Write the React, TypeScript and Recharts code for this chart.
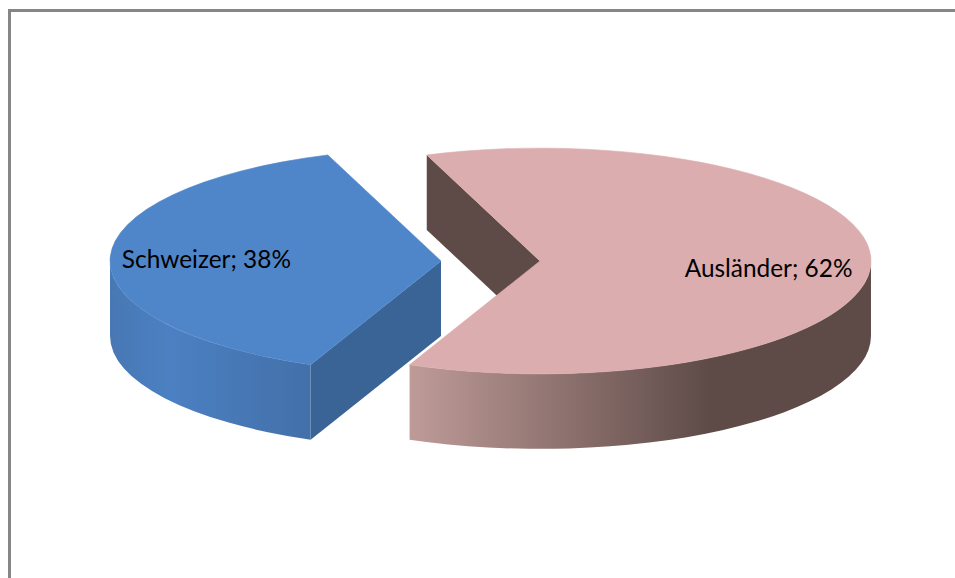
import { PieChart, Pie } from 'recharts';

const categories = ['Ausländer', 'Schweizer'];
const shares = [62, 38];

const chartData = categories.map((name, i) => ({ name, value: shares[i] }));

const RAD = Math.PI / 180;
const TILT = 0.341; // vertical squash of the ellipse
const DEPTH = 75; // height of the 3D wall
const EXPLODE = 49.5;

const looks: Record<string, any> = {
    'Ausländer': {
        top: '#dbadae',
        wall: '#5e4b48',
        x1: 409,
        x2: 871,
        stops: [[0, '#bf9b98'], [0.65, '#5e4b48'], [1, '#5e4b48']],
        nudge: 4,
    },
    'Schweizer': {
        top: '#4f86ca',
        wall: '#3a6496',
        x1: 110,
        x2: 310,
        stops: [[0, '#4878b4'], [0.3, '#4b80c2'], [1, '#4370a9']],
        nudge: 0,
    },
};

const centerX = (cx: number, midAngle: number) => cx + Math.cos(midAngle * RAD) * EXPLODE;

// one slice of the tilted pie, worked out from the angles Recharts hands over
const Slice3D = (props: any) => {
    const { cx, cy, outerRadius, startAngle, endAngle, midAngle, name } = props;
    const look = looks[name];
    const rx = outerRadius;
    const ry = outerRadius * TILT;
    const ox = centerX(cx, midAngle);

    const pt = (a: number, drop = 0) =>
        `${ox + rx * Math.cos(a * RAD)} ${cy - ry * Math.sin(a * RAD) + drop}`;

    const large = Math.abs(startAngle - endAngle) > 180 ? 1 : 0;
    const topPath = `M ${ox} ${cy} L ${pt(startAngle)} A ${rx} ${ry} 0 ${large} 1 ${pt(endAngle)} Z`;

    // only the part of the rim on the lower half of the ellipse shows
    const hi = Math.min(startAngle, 0);
    const lo = Math.max(endAngle, -180);
    const rimPath = `M ${pt(hi)} A ${rx} ${ry} 0 0 1 ${pt(lo)} L ${pt(lo, DEPTH)} A ${rx} ${ry} 0 0 0 ${pt(hi, DEPTH)} Z`;

    const wall = (a: number) =>
        `M ${ox} ${cy} L ${pt(a)} L ${pt(a, DEPTH)} L ${ox} ${cy + DEPTH} Z`;

    const gradId = `rim-${look.x1}`;

    return (
        <g>
            <defs>
                <linearGradient id={gradId} gradientUnits="userSpaceOnUse" x1={look.x1} x2={look.x2} y1={0} y2={0}>
                    {look.stops.map((s: any[]) => (
                        <stop key={s[0]} offset={s[0]} stopColor={s[1]} />
                    ))}
                </linearGradient>
            </defs>
            {Math.cos(startAngle * RAD) < 0 && <path d={wall(startAngle)} fill={look.wall} />}
            {Math.cos(endAngle * RAD) > 0 && <path d={wall(endAngle)} fill={look.wall} />}
            <path d={rimPath} fill={`url(#${gradId})`} />
            <path d={topPath} fill={look.top} stroke={look.top} strokeWidth={0.6} />
        </g>
    );
};

const renderLabel = (props: any) => {
    const { cx, cy, outerRadius, midAngle, name, value } = props;
    const x = centerX(cx, midAngle) + outerRadius * 0.7 * Math.cos(midAngle * RAD) - 3;
    const y = cy - outerRadius * TILT * 0.7 * Math.sin(midAngle * RAD) + looks[name].nudge;
    return (
        <text
            x={x}
            y={y}
            textAnchor="middle"
            dominantBaseline="central"
            fill="#000000"
            fontFamily="Lato, sans-serif"
            fontSize={24.4}
        >
            {`${name}; ${value}%`}
        </text>
    );
};

export default function App() {
    return (
        <div style={{ position: 'absolute', left: 0, top: 0, width: 955, height: 578, background: '#fff', overflow: 'hidden' }}>
            <div
                style={{
                    position: 'absolute',
                    left: 8,
                    top: 9,
                    right: 0,
                    bottom: 0,
                    borderLeft: '3px solid #868686',
                    borderTop: '3px solid #868686',
                }}
            />
            <div style={{ position: 'absolute', left: 0, top: 0 }}>
                <PieChart width={955} height={578} margin={{ top: 0, right: 0, bottom: 0, left: 0 }}>
                    <Pie
                        data={chartData}
                        dataKey="value"
                        nameKey="name"
                        cx={490.5}
                        cy={261}
                        innerRadius={0}
                        outerRadius={331}
                        startAngle={110}
                        endAngle={-250}
                        stroke="none"
                        shape={Slice3D}
                        label={renderLabel}
                        labelLine={false}
                        isAnimationActive={false}
                    />
                </PieChart>
            </div>
        </div>
    );
}
